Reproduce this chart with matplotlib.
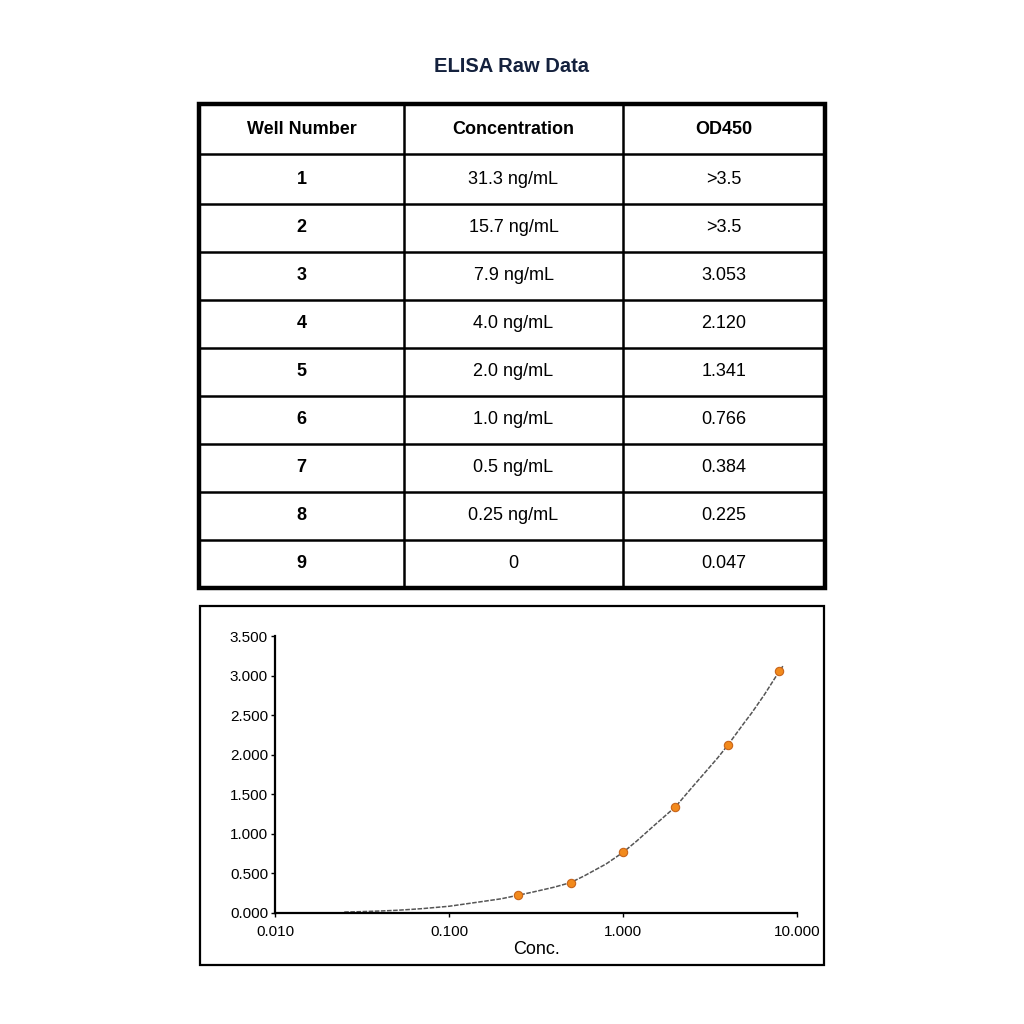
import numpy as np
import matplotlib
matplotlib.use("Agg")
import matplotlib.pyplot as plt
from matplotlib.patches import Rectangle
from matplotlib.ticker import FuncFormatter, LogLocator, NullLocator

plt.rcParams["font.family"] = ["Liberation Sans", "DejaVu Sans"]

# table data
headers = ["Well Number", "Concentration", "OD450"]
wells = ["1", "2", "3", "4", "5", "6", "7", "8", "9"]
conc_labels = ["31.3 ng/mL", "15.7 ng/mL", "7.9 ng/mL", "4.0 ng/mL", "2.0 ng/mL",
               "1.0 ng/mL", "0.5 ng/mL", "0.25 ng/mL", "0"]
od_labels = [">3.5", ">3.5", "3.053", "2.120", "1.341", "0.766", "0.384", "0.225", "0.047"]

# standard points plotted
std_conc = [7.9, 4.0, 2.0, 1.0, 0.5, 0.25]
std_od = [3.053, 2.120, 1.341, 0.766, 0.384, 0.225]

# fitted curve
curve_conc = [0.025, 0.03, 0.04, 0.05, 0.06, 0.07, 0.1, 0.15, 0.2, 0.25, 0.3, 0.4,
              0.5, 0.6, 0.8, 1.0, 1.2, 1.5, 2.0, 2.5, 3.0, 3.5, 4.0, 5.0, 5.5,
              6.5, 7.9, 8.3]
curve_od = [0.012, 0.016, 0.025, 0.034, 0.045, 0.055, 0.085, 0.14, 0.18, 0.225,
            0.262, 0.325, 0.384, 0.47, 0.62, 0.766, 0.91, 1.10, 1.341, 1.59, 1.79,
            1.96, 2.12, 2.41, 2.53, 2.76, 3.053, 3.12]

fig = plt.figure(figsize=(10.24, 10.24), dpi=100)
W = H = 1024.0

fig.text(511 / W, 1 - 67 / H, "ELISA Raw Data", ha="center", va="center",
         fontsize=14.5, fontweight="bold", color="#14213d")

# ---- table ----
tx0, tx1, ty0, ty1 = 199, 825, 104, 588
tax = fig.add_axes([tx0 / W, 1 - ty1 / H, (tx1 - tx0) / W, (ty1 - ty0) / H])
row_edges = [0, 50, 100, 148, 196, 244, 292, 340, 388, 436, 484]
tax.set_xlim(0, 1)
tax.set_ylim(row_edges[-1], 0)
tax.axis("off")
col_edges = [0, 205 / 626, 424 / 626, 1]
col_mid = [(col_edges[i] + col_edges[i + 1]) / 2 for i in range(3)]
row_mid = [(row_edges[i] + row_edges[i + 1]) / 2 for i in range(len(row_edges) - 1)]
for r in row_edges[1:-1]:
    tax.axhline(r, color="black", lw=1.8)
for c in col_edges[1:-1]:
    tax.axvline(c, color="black", lw=1.8)
tax.add_patch(Rectangle((0, 0), 1, row_edges[-1], fill=False, lw=3.2, ec="black",
                        clip_on=False))
for j, h in enumerate(headers):
    tax.text(col_mid[j], row_mid[0], h, ha="center", va="center", fontsize=13,
             fontweight="bold")
for i, (w, c, o) in enumerate(zip(wells, conc_labels, od_labels)):
    y = row_mid[i + 1]
    tax.text(col_mid[0], y, w, ha="center", va="center", fontsize=13,
             fontweight="bold")
    tax.text(col_mid[1], y, c, ha="center", va="center", fontsize=13)
    tax.text(col_mid[2], y, o, ha="center", va="center", fontsize=13)

# ---- plot panel ----
fig.patches.append(Rectangle((200 / W, 1 - 965 / H), 624 / W, 359 / H,
                             transform=fig.transFigure, fill=False, lw=1.6,
                             ec="black"))
ax = fig.add_axes([275 / W, 1 - 913 / H, 522 / W, 277 / H])
ax.plot(curve_conc, curve_od, color="#555555", lw=1.1, ls=(0, (3, 1)), zorder=2)
ax.plot(std_conc, std_od, ls="none", marker="o", ms=6, mfc="#f28a1c",
        mec="#c8641a", mew=0.8, zorder=3)
ax.set_xscale("log")
ax.set_xlim(0.01, 10)
ax.set_ylim(0, 3.5)
ax.xaxis.set_major_locator(LogLocator(base=10))
ax.xaxis.set_minor_locator(NullLocator())
ax.set_yticks(np.arange(0, 3.51, 0.5))
fmt = FuncFormatter(lambda v, p: f"{v:.3f}")
ax.xaxis.set_major_formatter(fmt)
ax.yaxis.set_major_formatter(fmt)
ax.tick_params(labelsize=11, length=3, width=1, pad=2)
ax.tick_params(axis="x", pad=6)
for s in ["top", "right"]:
    ax.spines[s].set_visible(False)
for s in ["left", "bottom"]:
    ax.spines[s].set_linewidth(1.6)
ax.set_xlabel("Conc.", fontsize=13, labelpad=1)

fig.savefig("out.png", dpi=100)
